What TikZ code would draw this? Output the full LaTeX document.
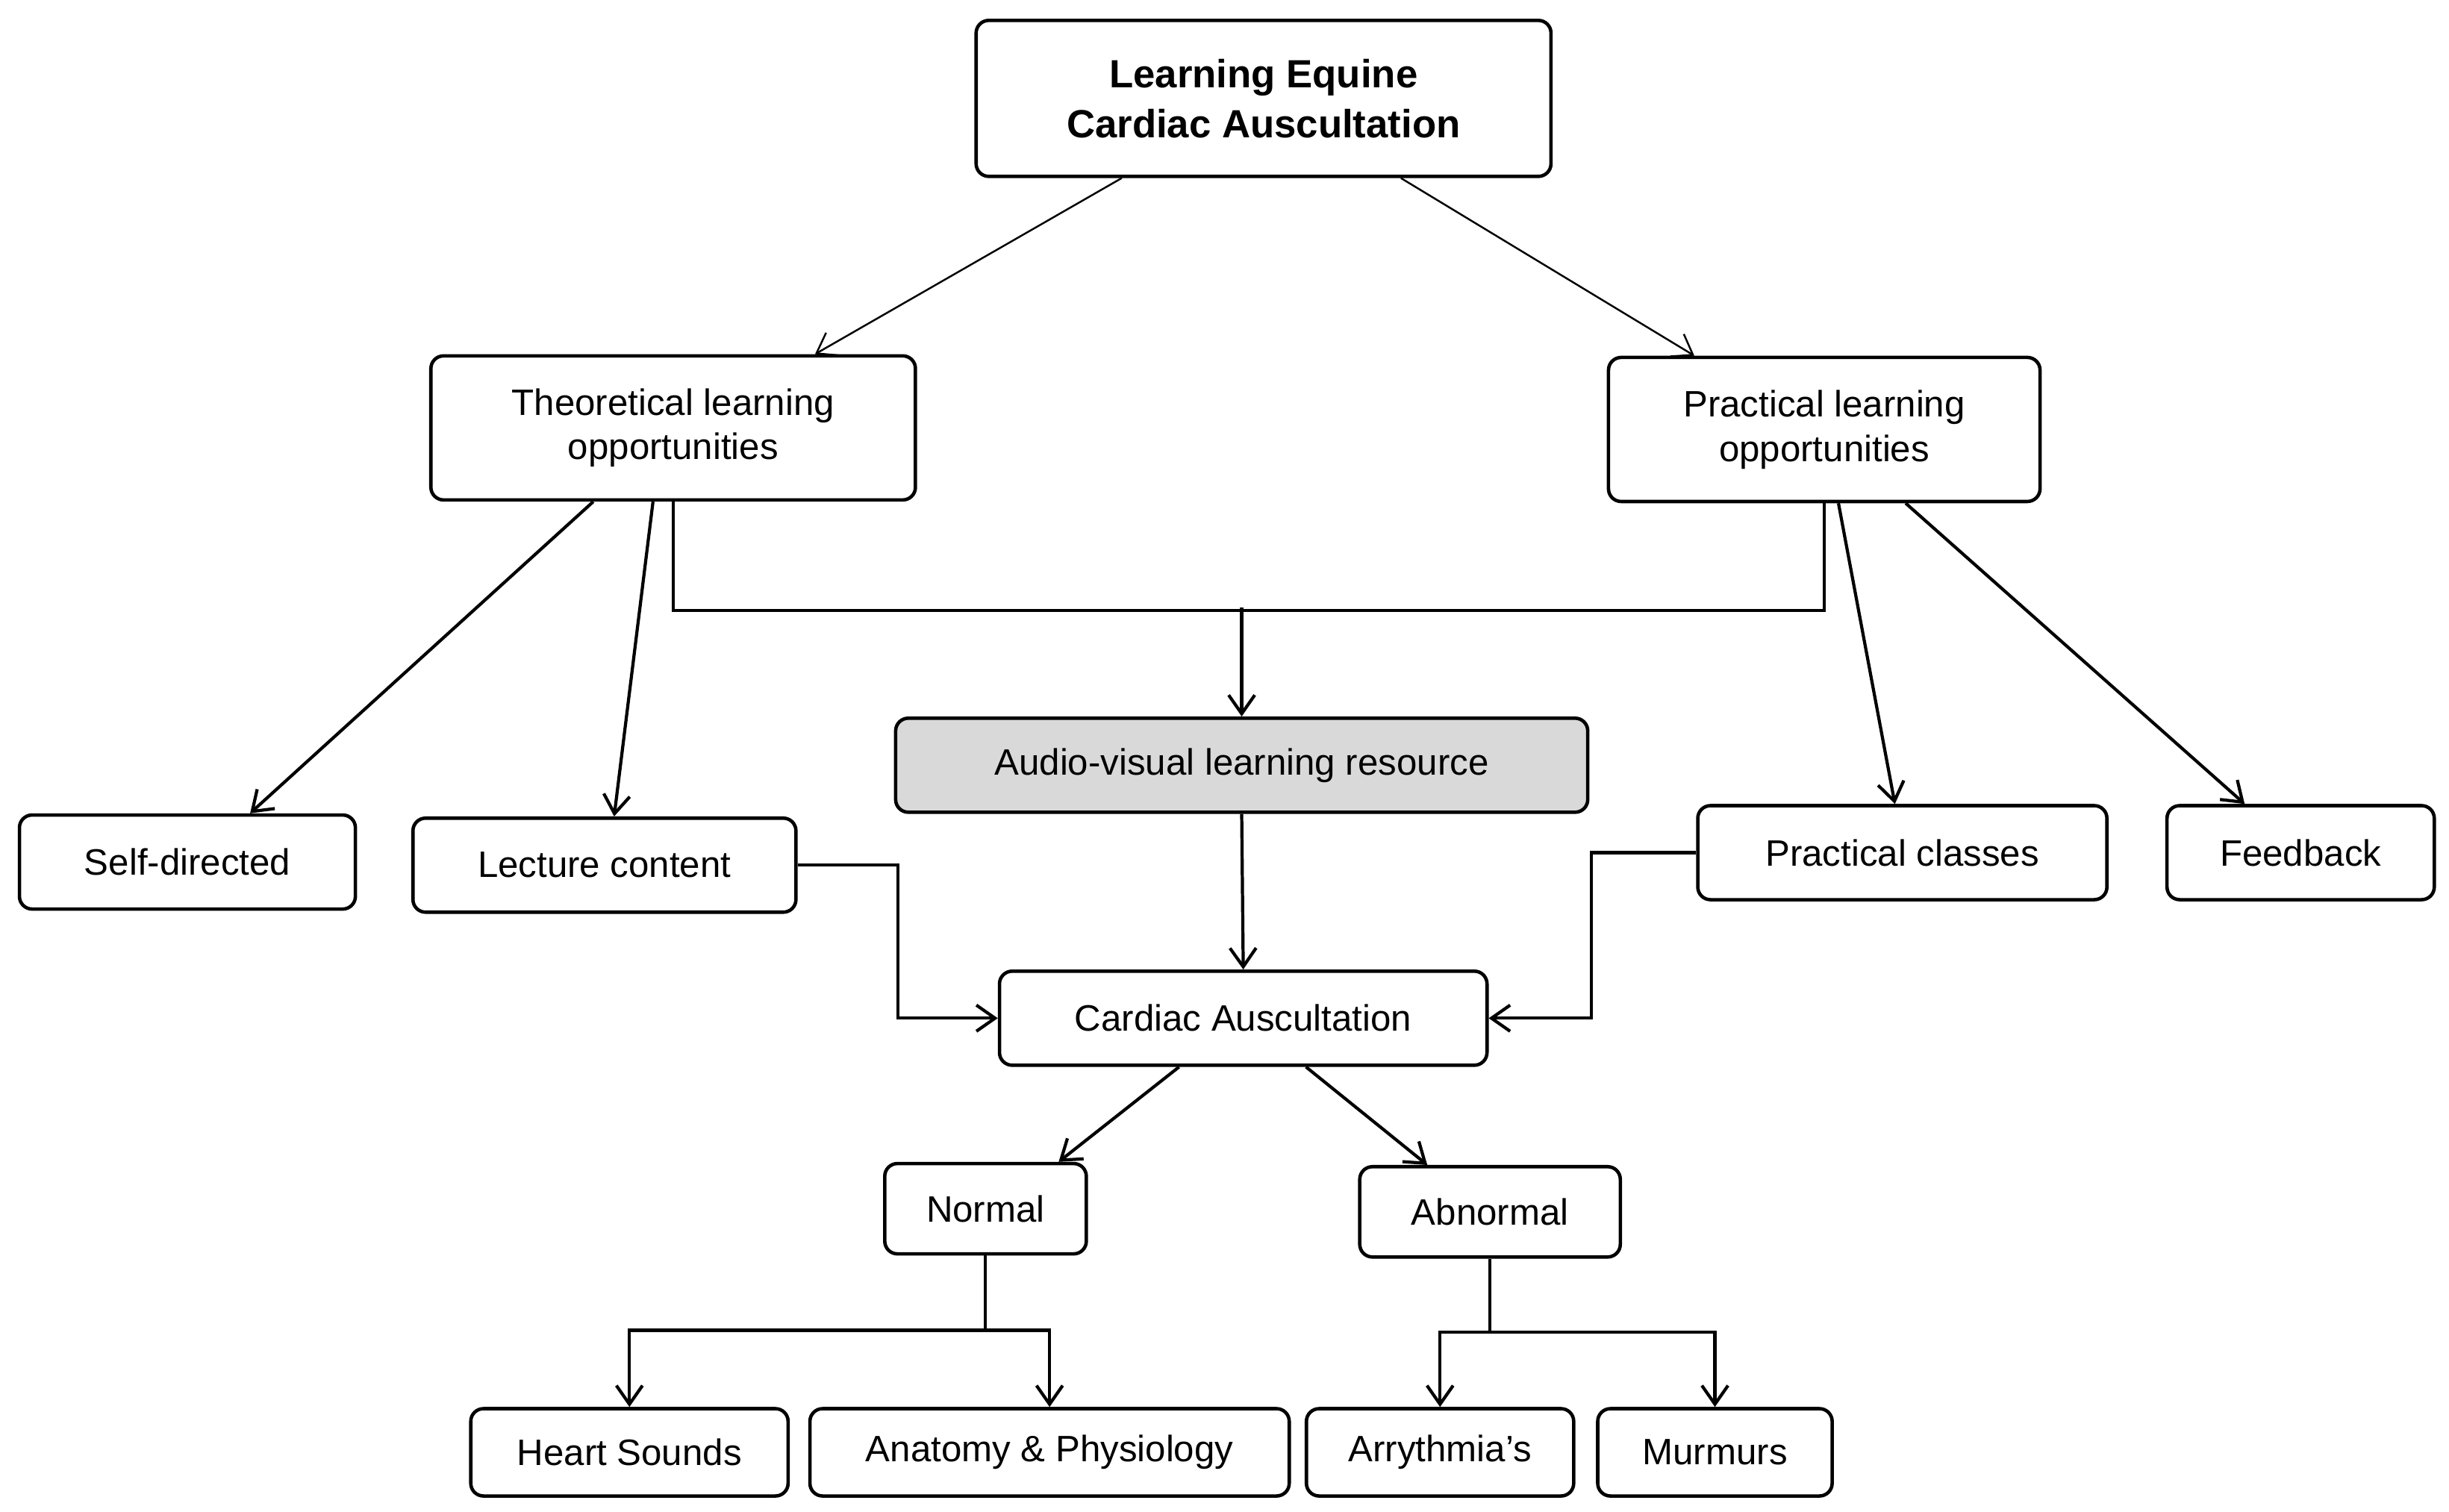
\documentclass[tikz,border=0pt]{standalone}
\usepackage{fontspec}
\setmainfont{Liberation Sans}
\usetikzlibrary{positioning, arrows.meta}
\definecolor{boxgray}{HTML}{D9D9D9}
\begin{document}
\begin{tikzpicture}[x=0.020925cm, y=-0.020925cm,
    box/.style={draw, rounded corners=0.17cm, line width=1.3pt, align=center,
      inner sep=0pt, font=\fontsize{14}{17}\selectfont},
    arr/.style={-{Straight Barb[length=2.5mm,width=3.5mm]}, line width=1.2pt},
    thinarr/.style={-{Straight Barb[length=2.5mm,width=3.5mm]}, line width=0.7pt}]
   \useasboundingbox (0,0) rectangle (1568,968);

   % Top level
   \node[box, minimum width=7.70cm, minimum height=2.09cm, font=\fontsize{15}{19}\selectfont\bfseries]
      (top) at (809,63) {Learning Equine\\Cardiac Auscultation};
   \node[box, minimum width=6.49cm, minimum height=1.93cm] (theo) at (431,274) {Theoretical learning\\opportunities};
   \node[box, minimum width=5.78cm, minimum height=1.93cm] (prac) at (1168,275) {Practical learning\\opportunities};

   % Middle level
   \node[box, fill=boxgray, minimum width=9.27cm, minimum height=1.26cm] (av) at (795,490) {Audio-visual learning resource};
   \node[box, minimum width=4.50cm, minimum height=1.26cm] (self) at (120,552) {Self-directed};
   \node[box, minimum width=5.13cm, minimum height=1.26cm] (lect) at (387,554) {Lecture content};
   \node[box, minimum width=5.48cm, minimum height=1.26cm] (pclass) at (1218,546) {Practical classes};
   \node[box, minimum width=3.58cm, minimum height=1.26cm] (feed) at (1473,546) {Feedback};
   \node[box, minimum width=6.53cm, minimum height=1.26cm] (card) at (796,652) {Cardiac Auscultation};

   % Lower levels
   \node[box, minimum width=2.70cm, minimum height=1.21cm] (norm) at (631,774) {Normal};
   \node[box, minimum width=3.49cm, minimum height=1.21cm] (abn) at (954,776) {Abnormal};
   \node[box, minimum width=4.25cm, minimum height=1.17cm] (heart) at (403,930) {Heart Sounds};
   \node[box, minimum width=6.42cm, minimum height=1.17cm] (anat) at (672,930) {Anatomy \& Physiology};
   \node[box, minimum width=3.58cm, minimum height=1.17cm] (arry) at (922,930) {Arrythmia's};
   \node[box, minimum width=3.14cm, minimum height=1.17cm] (murm) at (1098,930) {Murmurs};

   % Connectors
   \draw[thinarr] ([xshift=-1.90cm]top.south) -- ([xshift=1.90cm]theo.north);
   \draw[thinarr] ([xshift=1.84cm]top.south) -- ([xshift=-1.74cm]prac.north);
   \draw[arr] ([xshift=-1.07cm]theo.south) -- ([xshift=0.84cm]self.north);
   \draw[arr] ([xshift=-0.27cm]theo.south) -- ([xshift=0.13cm]lect.north);
   \draw[line width=1.2pt] (theo.south) -- ++(0,-1.46cm) -| (prac.south);
   \draw[arr] ([yshift=1.46cm]av.north) -- (av.north);
   \draw[arr] ([xshift=0.19cm]prac.south) -- ([xshift=-0.10cm]pclass.north);
   \draw[arr] ([xshift=1.09cm]prac.south) -- ([xshift=-0.75cm]feed.north);
   \draw[arr] (lect.east) -- ++(1.34cm,0) |- (card.west);
   \draw[arr] (pclass.west) -- ++(-1.40cm,0) |- (card.east);
   \draw[arr] (av.south) -- (card.north);
   \draw[arr] ([xshift=-0.86cm]card.south) -- ([xshift=0.98cm]norm.north);
   \draw[arr] ([xshift=0.84cm]card.south) -- ([xshift=-0.84cm]abn.north);
   \draw[line width=1.2pt] (norm.south) -- ++(0,-1.0cm) coordinate (nsplit);
   \draw[arr] (nsplit) -| (heart.north);
   \draw[arr] (nsplit) -| (anat.north);
   \draw[line width=1.2pt] (abn.south) -- ++(0,-0.98cm) coordinate (asplit);
   \draw[arr] (asplit) -| (arry.north);
   \draw[arr] (asplit) -| (murm.north);
\end{tikzpicture}
\end{document}
